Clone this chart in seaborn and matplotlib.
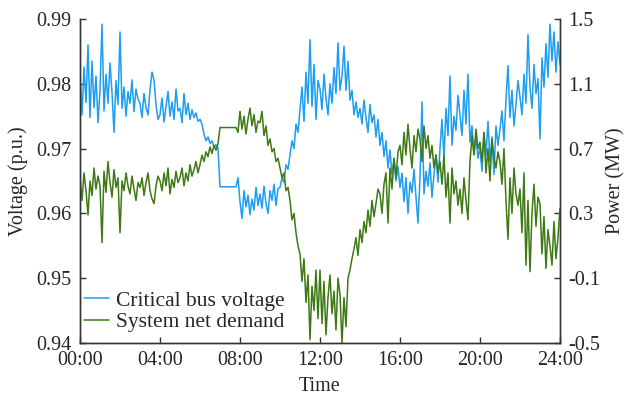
import numpy as np
import pandas as pd
import matplotlib
matplotlib.use("Agg")
import matplotlib.pyplot as plt
import seaborn as sns

# Critical bus voltage (p.u.), 6-minute samples from 00:00 to 24:00
voltage = [
    0.9815, 0.9752, 0.9826, 0.9771, 0.9860, 0.9748, 0.9835, 0.9763, 0.9812, 0.9740,
    0.9790, 0.9892, 0.9758, 0.9815, 0.9770, 0.9832, 0.9786, 0.9725, 0.9805, 0.9768,
    0.9880, 0.9762, 0.9795, 0.9750, 0.9788, 0.9770, 0.9806, 0.9757, 0.9792, 0.9776,
    0.9770, 0.9748, 0.9785, 0.9763, 0.9752, 0.9790, 0.9818, 0.9806, 0.9768, 0.9745,
    0.9752, 0.9778, 0.9741, 0.9765, 0.9788, 0.9750, 0.9772, 0.9745, 0.9792, 0.9758,
    0.9762, 0.9740, 0.9785, 0.9752, 0.9770, 0.9745, 0.9760, 0.9748, 0.9755, 0.9742,
    0.9745, 0.9738, 0.9722, 0.9712, 0.9718, 0.9708, 0.9712, 0.9703, 0.9706, 0.9701,
    0.9641, 0.9641, 0.9641, 0.9641, 0.9641, 0.9641, 0.9641, 0.9641, 0.9641, 0.9655,
    0.9618, 0.9592, 0.9635, 0.9610, 0.9628, 0.9598, 0.9622, 0.9605, 0.9640, 0.9612,
    0.9630, 0.9608, 0.9642, 0.9615, 0.9600, 0.9635, 0.9620, 0.9645, 0.9612, 0.9638,
    0.9640, 0.9655, 0.9648, 0.9675, 0.9668, 0.9690, 0.9712, 0.9700, 0.9738, 0.9725,
    0.9760, 0.9795, 0.9742, 0.9818, 0.9770, 0.9868, 0.9765, 0.9830, 0.9745, 0.9805,
    0.9792, 0.9760, 0.9815, 0.9778, 0.9752, 0.9800, 0.9770, 0.9825, 0.9785, 0.9863,
    0.9790, 0.9812, 0.9858, 0.9790, 0.9835, 0.9775, 0.9790, 0.9752, 0.9772, 0.9748,
    0.9762, 0.9738, 0.9775, 0.9748, 0.9725, 0.9768, 0.9740, 0.9752, 0.9718, 0.9745,
    0.9705, 0.9725, 0.9688, 0.9712, 0.9670, 0.9698, 0.9660, 0.9685, 0.9650, 0.9672,
    0.9640, 0.9662, 0.9618, 0.9655, 0.9600, 0.9648, 0.9632, 0.9668, 0.9625, 0.9585,
    0.9655, 0.9772, 0.9630, 0.9665, 0.9642, 0.9678, 0.9625, 0.9660, 0.9690, 0.9648,
    0.9700, 0.9745, 0.9685, 0.9762, 0.9720, 0.9812, 0.9705, 0.9750, 0.9728, 0.9782,
    0.9752, 0.9720, 0.9790, 0.9738, 0.9815, 0.9710, 0.9735, 0.9692, 0.9718, 0.9685,
    0.9702, 0.9665, 0.9725, 0.9690, 0.9742, 0.9680, 0.9718, 0.9660, 0.9735, 0.9705,
    0.9730, 0.9758, 0.9712, 0.9775, 0.9828, 0.9748, 0.9790, 0.9735, 0.9768, 0.9805,
    0.9780, 0.9752, 0.9815, 0.9770, 0.9876, 0.9795, 0.9762, 0.9830, 0.9785, 0.9808,
    0.9715, 0.9840, 0.9795, 0.9862, 0.9810, 0.9892, 0.9835, 0.9880, 0.9818, 0.9865,
    0.9830,
]

# System net demand (MW), same samples
power = [
    0.52, 0.38, 0.55, 0.44, 0.29, 0.50, 0.41, 0.58, 0.45, 0.53,
    0.47, 0.12, 0.56, 0.43, 0.62, 0.49, 0.40, 0.57, 0.46, 0.52,
    0.18, 0.50, 0.44, 0.55, 0.47, 0.42, 0.53, 0.45, 0.38, 0.49,
    0.46, 0.52, 0.41, 0.49, 0.55, 0.44, 0.39, 0.36, 0.47, 0.53,
    0.50, 0.44, 0.55, 0.47, 0.58, 0.42, 0.51, 0.46, 0.56, 0.49,
    0.52, 0.58, 0.47, 0.55, 0.50, 0.60, 0.53, 0.57, 0.62, 0.55,
    0.60, 0.66, 0.62, 0.68, 0.65, 0.71, 0.67, 0.72, 0.69, 0.73,
    0.83, 0.83, 0.83, 0.83, 0.83, 0.83, 0.83, 0.83, 0.83, 0.80,
    0.93, 0.82, 0.90, 0.79, 0.88, 0.95, 0.84, 0.91, 0.80, 0.87,
    0.86, 0.93, 0.78, 0.84, 0.72, 0.76, 0.68, 0.70, 0.62, 0.64,
    0.58, 0.52, 0.55, 0.44, 0.46, 0.38, 0.26, 0.30, 0.18, 0.10,
    0.05, -0.12, 0.02, -0.25, -0.08, -0.48, -0.15, -0.30, -0.05, -0.35,
    -0.05, -0.38, -0.12, -0.45, -0.22, -0.08, -0.32, -0.18, -0.42, -0.10,
    -0.20, -0.50, -0.22, -0.40, -0.10, -0.05, 0.02, 0.08, 0.15, 0.04,
    0.20, 0.12, 0.25, 0.18, 0.32, 0.22, 0.38, 0.28, 0.36, 0.45,
    0.42, 0.30, 0.48, 0.55, 0.24, 0.58, 0.45, 0.64, 0.52, 0.68,
    0.72, 0.60, 0.80, 0.66, 0.85, 0.70, 0.58, 0.78, 0.68, 0.82,
    0.76, 0.62, 0.84, 0.70, 0.78, 0.64, 0.72, 0.58, 0.66, 0.55,
    0.62, 0.48, 0.66, 0.40, 0.55, 0.24, 0.58, 0.42, 0.50, 0.35,
    0.45, 0.30, 0.52, 0.38, 0.26, 0.62, 0.78, 0.66, 0.82, 0.70,
    0.74, 0.62, 0.80, 0.55, 0.70, 0.50, 0.76, 0.64, 0.58, 0.68,
    0.62, 0.48, 0.70, 0.38, 0.14, 0.52, 0.30, 0.58, 0.42, 0.35,
    0.45, 0.18, 0.55, -0.02, 0.38, -0.06, 0.30, 0.48, 0.22, 0.40,
    0.36, 0.05, 0.28, -0.04, 0.20, 0.10, -0.02, 0.25, 0.02, 0.15,
    0.33,
]

hours = np.arange(len(voltage)) * 0.1
x_ticks = [0, 4, 8, 12, 16, 20, 24]
x_tick_labels = ["00:00", "04:00", "08:00", "12:00", "16:00", "20:00", "24:00"]
v_ticks = [0.94, 0.95, 0.96, 0.97, 0.98, 0.99]
p_ticks = [-0.5, -0.1, 0.3, 0.7, 1.1, 1.5]

df = pd.DataFrame({"hour": hours, "voltage": voltage, "power": power})

sns.set_style("ticks")
plt.rcParams["font.family"] = ["Liberation Serif", "DejaVu Serif"]
plt.rcParams["font.size"] = 14.5

BLUE = "#1E9EF0"
GREEN = "#3E7A14"
SPINE = "#333333"

fig = plt.figure(figsize=(6.27, 3.96), dpi=100)
ax = fig.add_axes([0.1276, 0.134, 0.7655, 0.818])
ax2 = ax.twinx()

sns.lineplot(data=df, x="hour", y="voltage", ax=ax, color=BLUE, linewidth=1.1,
             label="Critical bus voltage", legend=False)
sns.lineplot(data=df, x="hour", y="power", ax=ax2, color=GREEN, linewidth=1.1,
             label="System net demand", legend=False)

ax.set_xlim(0, 24)
ax.set_ylim(0.94, 0.99)
ax2.set_ylim(-0.5, 1.5)
ax.set_xticks(x_ticks)
ax.set_xticklabels(x_tick_labels)
ax.set_yticks(v_ticks)
ax.set_yticklabels([f"{t:.2f}" for t in v_ticks])
ax2.set_yticks(p_ticks)
ax2.set_yticklabels([f"{t:.1f}" for t in p_ticks])

ax.set_xlabel("Time", labelpad=5)
ax.set_ylabel("Voltage (p.u.)", labelpad=6)
ax2.set_ylabel("Power (MW)", labelpad=4)

for a in (ax, ax2):
    a.spines["top"].set_visible(False)
    for s in ("left", "right", "bottom"):
        a.spines[s].set_color(SPINE)
        a.spines[s].set_linewidth(1.0)
    a.tick_params(direction="in", length=4, width=1.0, color=SPINE, labelsize=14.5, pad=6)
ax.tick_params(axis="y", right=False)
ax.tick_params(axis="x", top=False)

h1, l1 = ax.get_legend_handles_labels()
h2, l2 = ax2.get_legend_handles_labels()
ax2.legend(h1 + h2, l1 + l2, loc="lower left", frameon=False, fontsize=15.5,
           handlelength=1.15, handletextpad=0.3, labelspacing=0.05,
           borderaxespad=0.0, borderpad=0.2, bbox_to_anchor=(0.0, 0.02))

fig.savefig("out.png", dpi=100)
